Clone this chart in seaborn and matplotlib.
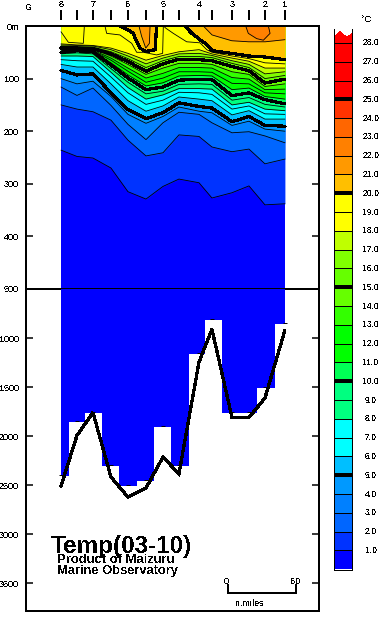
import matplotlib
matplotlib.use("Agg")
import matplotlib.pyplot as plt
import seaborn as sns

W, H = 383, 618

# station positions along the section, n.miles from station 8
station_nm = [0, 14.1, 28.2, 44.1, 59.1, 75, 90, 104.1, 121.8, 133.2, 150.9, 165.9, 180, 197.6]
station_labels = ["8", "", "7", "", "6", "", "5", "", "4", "", "3", "", "2", "1"]

# isotherm depths (m) at each station
iso_01 = [236, 248, 251, 270, 315, 329, 305, 291, 298, 327, 317, 304, 340, 338]
iso_02 = [150, 158, 163, 179, 217, 247, 241, 207, 210, 230, 239, 234, 262, 253]
iso_03 = [116, 132, 118, 151, 187, 216, 184, 164, 168, 184, 203, 201, 209, 222]
iso_04 = [100, 110, 105, 134, 168, 185, 172, 154, 162, 165, 189, 181, 196, 200]
iso_05 = [84.5, 93, 91, 127, 159, 176, 165, 146, 153, 156, 182, 172, 189, 190.5]
iso_06 = [73, 78, 78, 110, 142, 162, 152, 135, 139, 142, 169, 161, 177, 177]
iso_07 = [64, 66, 67, 97, 127, 149, 141, 126, 127, 130, 158, 152, 167, 168]
iso_08 = [57, 57, 58, 88, 117, 139, 131, 119, 119, 120, 150, 145, 158, 161]
iso_09 = [53, 51, 53, 81, 107, 129, 124, 111, 110, 111, 141, 136, 149, 154]
iso_10 = [50, 47, 49, 74, 99, 121, 116, 103, 101, 102, 132.5, 127, 140, 148]
iso_11 = [48.5, 46, 48, 70, 93, 114, 108, 95, 94, 95, 121, 118, 134, 139]
iso_12 = [47, 45, 47, 65, 86, 107, 99, 87, 87, 88, 109, 110, 127, 129]
iso_13 = [45, 44, 46, 61, 80, 99, 90, 79, 79, 80, 98, 101, 121, 120]
iso_14 = [43.5, 43, 44.5, 57, 73, 92, 80, 71, 71, 73, 87, 92, 115, 110]
iso_15 = [42, 42, 43, 53, 67.5, 86, 72, 63, 64, 66, 77, 85, 108.5, 101]
iso_16 = [38, 39, 40, 49, 62, 79, 66, 58, 58, 60, 71, 79, 100, 94]
iso_17 = [36, 37, 38, 45, 57, 72, 61, 53, 52, 56, 66, 73, 91, 87]
iso_18 = [34, 36, 37, 42, 52, 65, 56, 49, 45, 53, 61, 67, 80, 80]

# warm pockets near the surface do not span every station
iso_19a_x = [0, 6.5, 19.7, 20.6]
iso_19a = [11, 31, 33, 0]
iso_19b_x = [38.8, 40.3, 52, 62.4, 66.8, 72.7, 84.4, 89.7, 90.3]
iso_19b = [0, 14, 17, 33, 50, 50, 55, 52, 0]
iso_19c_x = [90.5, 92.4, 99.1, 110.9, 122.7, 128.6, 133.3, 150.9, 165.9, 180, 197.6]
iso_19c = [0, 4, 14, 30, 32, 45, 50, 57, 62, 70, 72]
iso_20a_x = [52, 59.4, 63.8, 66.8, 69.7, 74.8, 83, 84.4]
iso_20a = [0, 7.6, 14, 30, 42, 48.6, 45, 0]
iso_20b_x = [109.4, 115.4, 122.7, 128.6, 133.3, 150.6, 165.6, 180.3, 197.6]
iso_20b = [0, 14, 26, 35, 47, 52, 57, 59, 64]
iso_21a_x = [68.8, 71.2, 74.8, 78, 78.6]
iso_21a = [0, 20, 42, 33, 0]
iso_21b_x = [125.6, 133.3, 150.6, 165.6, 180.3, 197.6]
iso_21b = [0, 17, 28, 30, 30, 26]
iso_22_x = [163, 165.3, 172.7, 178.6, 184.5, 183]
iso_22 = [0, 14, 24, 27, 14, 0]

# sea floor: stepped mean depth and the surveyed bottom line
floor_depth = [2408, 1860, 1768, 2306, 2510, 2459, 1911, 2306, 1163, 819, 1768, 1768, 1513, 860]
bottom_depth = [2510, 1993, 1760, 2418, 2622, 2530, 2214, 2385, 1245, 911, 1810, 1810, 1612, 922]

# colour of each 1 degree band, from 0-1 up to 28+
band_colors = [
    "#0000ff", "#0033ff", "#0066ff", "#0080ff", "#0099ff", "#00bfff", "#00ffff", "#00ffff",
    "#00ff80", "#00ff80", "#00ff55", "#00ff00", "#00ff00", "#33ff00", "#66ff00", "#66ff00",
    "#80ff00", "#bfff00", "#ffff00", "#ffff00", "#ffbf00", "#ff9900", "#ff8000", "#ff6600",
    "#ff3300", "#ff0000", "#ff0000", "#ff0000", "#ff0000",
]
cbar_levels = list(range(1, 29))

upper_ticks = [0, 100, 200, 300, 400, 500]
upper_labels = ["0m", "100", "200", "300", "400", "500"]
lower_ticks = [1000, 1500, 2000, 2500, 3000, 3500]

sns.set_theme(style="white")
plt.rcParams["font.family"] = ["Liberation Sans", "DejaVu Sans"]
plt.rcParams["text.antialiased"] = False
plt.rcParams["lines.antialiased"] = False
plt.rcParams["patch.antialiased"] = False
plt.rcParams["lines.solid_joinstyle"] = "miter"

THIN = 0.6
THICK = 1.6


def px_axes(fig, x0, y0, x1, y1):
    # axes from picture pixel corners
    return fig.add_axes([x0 / W, 1 - y1 / H, (x1 - x0) / W, (y1 - y0) / H])


def contour_line(ax, x, y, thick=False):
    # smoothing the thin lines keeps the colour bands visible where they bunch up
    sns.lineplot(x=x, y=y, sort=False, estimator=None, color="black",
                 linewidth=THICK if thick else THIN, legend=False, ax=ax, antialiased=not thick)


def fill_down(ax, x, y, level):
    ax.fill_between(x, 0, y, color=band_colors[level], linewidth=0, antialiased=False)


fig = plt.figure(figsize=(W / 100, H / 100), dpi=100)
ax_top = px_axes(fig, 26, 26, 319, 289)
ax_low = px_axes(fig, 26, 289, 319, 611)
x_lim = (-30.9, 227.7)

# upper section: paint from cold to warm, warmer water on top
ax_top.fill_between(station_nm, 0, 500, color=band_colors[0], linewidth=0, antialiased=False)
full_isos = [iso_01, iso_02, iso_03, iso_04, iso_05, iso_06, iso_07, iso_08, iso_09,
             iso_10, iso_11, iso_12, iso_13, iso_14, iso_15, iso_16, iso_17, iso_18]
for level, iso in enumerate(full_isos, start=1):
    fill_down(ax_top, station_nm, iso, level)
fill_down(ax_top, iso_20a_x, iso_20a, 20)
fill_down(ax_top, iso_20b_x, iso_20b, 20)
fill_down(ax_top, iso_21a_x, iso_21a, 21)
fill_down(ax_top, iso_21b_x, iso_21b, 21)
fill_down(ax_top, iso_22_x, iso_22, 22)

for level, iso in enumerate(full_isos, start=1):
    contour_line(ax_top, station_nm, iso, thick=level % 5 == 0)
for x, y in [(iso_19a_x, iso_19a), (iso_19b_x, iso_19b), (iso_19c_x, iso_19c),
             (iso_21a_x, iso_21a), (iso_21b_x, iso_21b), (iso_22_x, iso_22)]:
    contour_line(ax_top, x, y)
contour_line(ax_top, iso_20a_x, iso_20a, thick=True)
contour_line(ax_top, iso_20b_x, iso_20b, thick=True)

ax_top.set_xlim(*x_lim)
ax_top.set_ylim(500, 0)
ax_top.set_xticks([])
ax_top.set_yticks(upper_ticks, upper_labels)

# station ticks stand clear above the frame
ax_top.vlines(station_nm, -30, -11, color="black", linewidth=1.1, clip_on=False, antialiased=False)
for x, label in zip(station_nm, station_labels):
    ax_top.text(x, -40, label, ha="center", va="center", fontsize=6.5, color="black", clip_on=False)
fig.text(29 / W, 1 - 7 / H, "G", ha="center", va="center", fontsize=6.5, color="black")

# lower section: stepped floor and bottom line
ax_low.fill_between(station_nm, 500, floor_depth, step="mid", color=band_colors[0],
                    linewidth=0, antialiased=False)
ax_low.plot(station_nm, [d - 10 for d in floor_depth], linestyle="", marker="_",
            markersize=3, markeredgewidth=0.7, color="black", antialiased=False)
sns.lineplot(x=station_nm, y=bottom_depth, sort=False, estimator=None, color="black",
             linewidth=THICK, legend=False, ax=ax_low, antialiased=False)

ax_low.set_xlim(*x_lim)
ax_low.set_ylim(3784, 500)
ax_low.set_xticks([])
ax_low.set_yticks(lower_ticks, [str(t) for t in lower_ticks])

# 60 n.miles scale bar
ax_low.plot([147.4, 147.4, 207.4, 207.4], [3519, 3601, 3601, 3519], color="black",
            linewidth=1.1, antialiased=False)

for ax in (ax_top, ax_low):
    ax.tick_params(axis="y", direction="in", length=5, width=1.1, color="black", pad=5,
                   labelsize=6.5, labelcolor="black", left=True, right=True)
    for spine in ax.spines.values():
        spine.set_visible(True)
        spine.set_color("black")
        spine.set_linewidth(1.15)
    ax.patch.set_alpha(0)
ax_low.spines["top"].set_visible(False)

fig.text(51 / W, 1 - 553 / H, "Temp(03-10)", fontsize=17.5, fontweight="bold", color="black",
         ha="left", va="baseline")
fig.text(57 / W, 1 - 563 / H, "Product of Maizuru", fontsize=9.4, fontweight="bold", color="black",
         ha="left", va="baseline")
fig.text(57 / W, 1 - 574 / H, "Marine Observatory", fontsize=9.3, fontweight="bold", color="black",
         ha="left", va="baseline")
fig.text(226 / W, 1 - 581 / H, "0", fontsize=6.5, ha="center", va="center", color="black")
fig.text(296 / W, 1 - 581 / H, "60", fontsize=6.5, ha="center", va="center", color="black")
fig.text(250 / W, 1 - 603 / H, "n.miles", fontsize=6.5, ha="center", va="center", color="black")

# colour scale on the right
ax_bar = px_axes(fig, 334, 29, 352, 570)
pos = [i + 0.04 for i in range(len(band_colors))]
ax_bar.barh(pos, 1, height=1, left=0, align="edge", color=band_colors, edgecolor="none",
            antialiased=False)
ax_bar.set_xlim(0, 1)
ax_bar.set_ylim(0, 28.78)
for level in cbar_levels:
    ax_bar.hlines(level + 0.04, 0, 1, color="black", linewidth=THICK if level % 5 == 0 else 0.55,
                  antialiased=False)
    ax_bar.text(2.05, level + 0.04, f"{level}.0", ha="center", va="center", fontsize=6.2,
                color="black", clip_on=False)
# wavy cut at the open end of the scale
ax_bar.fill([0, 0, 0.3, 0.72, 1, 1], [28.78, 28.45, 28.74, 28.42, 28.62, 28.78], color="white",
            linewidth=0, antialiased=False)
ax_bar.set_xticks([])
ax_bar.set_yticks([])
for name, spine in ax_bar.spines.items():
    spine.set_color("black")
    spine.set_linewidth(0.7)
    spine.set_visible(name != "top")
fig.text(367 / W, 1 - 20 / H, "°C", fontsize=6.5, ha="center", va="center", color="black")

fig.savefig("out.png", dpi=100)
